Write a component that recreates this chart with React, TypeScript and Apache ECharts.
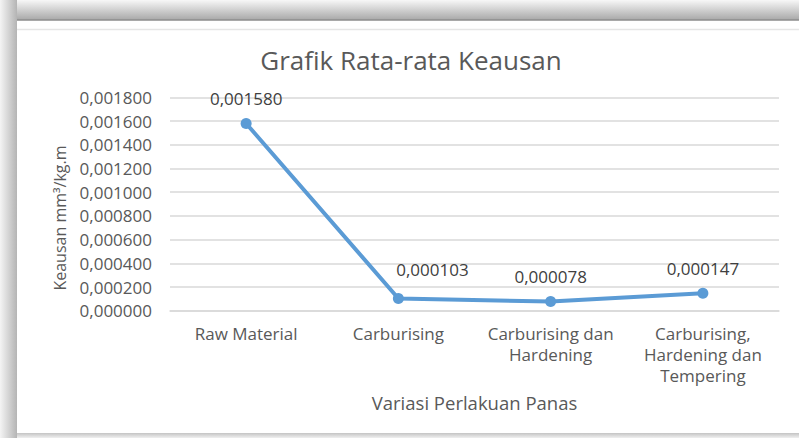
import React, { useEffect, useRef } from "react";
import * as echarts from "echarts";

const categories = [
  "Raw Material",
  "Carburising",
  "Carburising dan\nHardening",
  "Carburising,\nHardening dan\nTempering",
];
const wearValues = [0.00158, 0.000103, 0.000078, 0.000147];
const yTicks = { min: 0, max: 0.0018, interval: 0.0002 };

const titleText = "Grafik Rata-rata Keausan";
const xTitle = "Variasi Perlakuan Panas";
const yTitle = "Keausan mm³/kg.m";

const FONT = "'Open Sans', 'Noto Sans', sans-serif";
const fmt = (v: number) => v.toFixed(6).replace(".", ",");

export default function App() {
  const ref = useRef<HTMLDivElement>(null);
  useEffect(() => {
    if (!ref.current) return;
    const chart = echarts.init(ref.current, null, { renderer: "svg" });
    chart.setOption({
      animation: false,
      backgroundColor: "#ffffff",
      title: {
        text: titleText,
        left: 406,
        top: 42,
        textAlign: "center",
        textStyle: {
          fontFamily: FONT,
          fontSize: 26,
          fontWeight: "normal",
          color: "#595959",
        },
      },
      grid: { left: 170, right: 20, top: 97.4, bottom: 127.3 },
      xAxis: {
        type: "category",
        data: categories,
        boundaryGap: true,
        axisLine: { show: true, lineStyle: { color: "#d9d9d9", width: 1.5 } },
        axisTick: { show: false },
        axisLabel: {
          interval: 0,
          margin: 12,
          fontFamily: FONT,
          fontSize: 17,
          lineHeight: 21,
          color: "#595959",
        },
        name: xTitle,
        nameLocation: "middle",
        nameGap: 82,
        nameTextStyle: { fontFamily: FONT, fontSize: 18.5, color: "#595959" },
      },
      yAxis: {
        type: "value",
        min: yTicks.min,
        max: yTicks.max,
        interval: yTicks.interval,
        axisLine: { show: false },
        axisTick: { show: false },
        splitLine: { lineStyle: { color: "#d9d9d9", width: 1.5 } },
        axisLabel: {
          margin: 18,
          fontFamily: FONT,
          fontSize: 17,
          color: "#595959",
          formatter: (v: number) => fmt(v),
        },
      },
      graphic: [
        {
          type: "rect",
          silent: true,
          shape: { x: 0, y: 0, width: 799, height: 20 },
          style: {
            fill: new echarts.graphic.LinearGradient(0, 0, 0, 1, [
              { offset: 0, color: "#f7f7f7" },
              { offset: 1, color: "#a8a8a8" },
            ]),
          },
        },
        {
          type: "rect",
          silent: true,
          shape: { x: 0, y: 0, width: 17, height: 438 },
          style: {
            fill: new echarts.graphic.LinearGradient(0, 0, 1, 0, [
              { offset: 0, color: "#f4f4f4" },
              { offset: 1, color: "#b4b4b4" },
            ]),
          },
        },
        {
          type: "line",
          silent: true,
          shape: { x1: 17, y1: 20, x2: 799, y2: 20 },
          style: { stroke: "#8c8c8c", lineWidth: 1.5 },
        },
        {
          type: "line",
          silent: true,
          shape: { x1: 17, y1: 29.5, x2: 799, y2: 29.5 },
          style: { stroke: "#e6e6e6", lineWidth: 1.5 },
        },
        {
          type: "rect",
          silent: true,
          shape: { x: 17, y: 433, width: 782, height: 5 },
          style: {
            fill: new echarts.graphic.LinearGradient(0, 0, 0, 1, [
              { offset: 0, color: "#c4c4c4" },
              { offset: 1, color: "#efefef" },
            ]),
          },
        },
        {
          type: "text",
          silent: true,
          x: 60,
          y: 218,
          rotation: Math.PI / 2,
          style: {
            text: yTitle,
            fontFamily: FONT,
            fontSize: 16,
            fill: "#595959",
            align: "center",
            verticalAlign: "middle",
          },
        },
      ],
      series: [
        {
          type: "line",
          data: wearValues.map((v, i) =>
            i === 1 ? { value: v, label: { offset: [34, -4] } } : v
          ),
          symbol: "circle",
          symbolSize: 11,
          lineStyle: { color: "#5b9bd5", width: 4 },
          itemStyle: { color: "#5b9bd5" },
          label: {
            show: true,
            position: "top",
            distance: 11,
            fontFamily: FONT,
            fontSize: 17,
            color: "#404040",
            formatter: (p: any) => fmt(p.value),
          },
        },
      ],
    });
    return () => chart.dispose();
  }, []);
  return (
    <div
      ref={ref}
      style={{ position: "fixed", left: 0, top: 0, width: 799, height: 438 }}
    />
  );
}
